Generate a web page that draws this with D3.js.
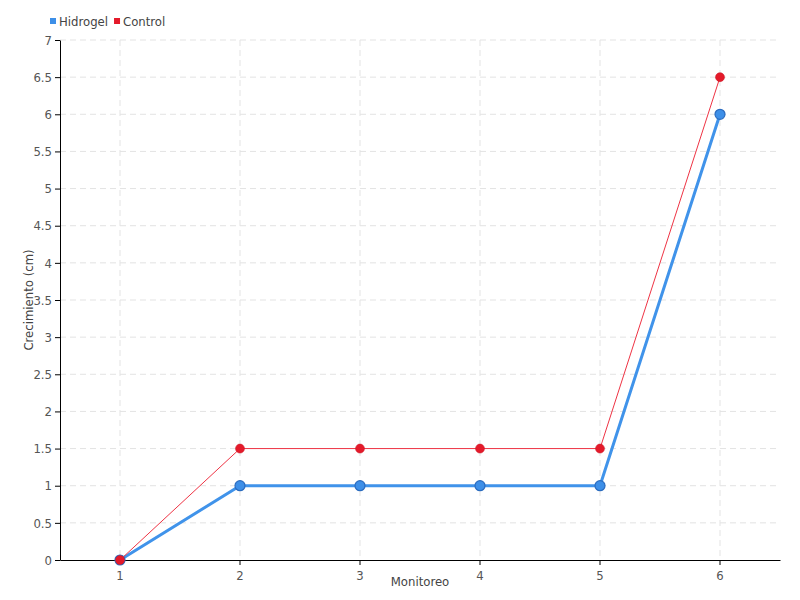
<!DOCTYPE html>
<html><head><meta charset="utf-8">
<script src="https://cdn.jsdelivr.net/npm/d3@7"></script>
<style>body{margin:0;background:#fff}svg{display:block}text{font-family:"DejaVu Sans Condensed","DejaVu Sans",sans-serif}</style>
</head><body><svg id="c" width="800" height="600"></svg>
<script>
const categories = ["1","2","3","4","5","6"];
const hidrogel = [0,1,1,1,1,6];
const control = [0,1.5,1.5,1.5,1.5,6.5];
const yTicks = [0,0.5,1,1.5,2,2.5,3,3.5,4,4.5,5,5.5,6,6.5,7];
const seriesNames = ["Hidrogel","Control"];

const svg = d3.select("#c");
const m = {l:60, r:20, t:40, b:40};
const W = 800, H = 600;
const x = d3.scaleBand().domain(categories).range([m.l, W-m.r]);
const y = d3.scaleLinear().domain([0,7]).range([H-m.b, m.t]);
const cx = d => x(d) + x.bandwidth()/2;
const grid = svg.append("g");
grid.selectAll("line.h").data(yTicks.slice(1)).join("line")
  .attr("x1", m.l).attr("x2", W-m.r).attr("y1", d=>y(d)).attr("y2", d=>y(d))
  .attr("stroke","#e3e3e3").attr("stroke-dasharray","6,4");
grid.selectAll("line.v").data(categories).join("line")
  .attr("x1", cx).attr("x2", cx).attr("y1", m.t).attr("y2", H-m.b)
  .attr("stroke","#e3e3e3").attr("stroke-dasharray","6,4");

const xa = svg.append("g").attr("transform",`translate(0,${H-m.b})`)
  .call(d3.axisBottom(x).tickSize(5).tickSizeOuter(0));
const ya = svg.append("g").attr("transform",`translate(${m.l},0)`)
  .call(d3.axisLeft(y).tickValues(yTicks).tickSize(5).tickSizeOuter(0).tickFormat(d3.format("")));
[xa,ya].forEach(a=>{a.select(".domain").attr("stroke","#000");a.selectAll(".tick line").attr("stroke","#000");
  a.selectAll("text").attr("fill","#555").style("font-size","13px").attr("font-family",null);});
xa.selectAll("text").attr("dy","0.9em");

const line = d3.line().x((d,i)=>cx(categories[i])).y(d=>y(d));
svg.append("path").datum(hidrogel).attr("d",line).attr("fill","none").attr("stroke","#4093ea").attr("stroke-width",3);
svg.selectAll("circle.h").data(hidrogel).join("circle").attr("cx",(d,i)=>cx(categories[i])).attr("cy",d=>y(d))
  .attr("r",5).attr("fill","#3d8fe8").attr("stroke","#2a6bbf").attr("stroke-width",1.2);
svg.append("path").datum(control).attr("d",line).attr("fill","none").attr("stroke","#ee3344").attr("stroke-width",1);
svg.selectAll("circle.c").data(control).join("circle").attr("cx",(d,i)=>cx(categories[i])).attr("cy",d=>y(d))
  .attr("r",4.5).attr("fill","#e41a2a").attr("stroke","#c81424").attr("stroke-width",0.5);

svg.append("text").attr("x",(m.l+W-m.r)/2).attr("y",586).attr("text-anchor","middle")
  .attr("fill","#444").style("font-size","13px").text("Monitoreo");
svg.append("text").attr("transform",`translate(33,${(m.t+H-m.b)/2}) rotate(-90)`).attr("text-anchor","middle")
  .attr("fill","#444").style("font-size","13px").text("Crecimiento (cm)");

const colors = ["#3d8fe8","#e41a2a"];
const lg = svg.append("g");
let lx = 50;
seriesNames.forEach((n,i)=>{
  lg.append("rect").attr("x",lx).attr("y",18).attr("width",6).attr("height",6).attr("fill",colors[i]);
  const t = lg.append("text").attr("x",lx+9).attr("y",26).attr("fill","#444").style("font-size","13px").text(n);
  lx += 9 + t.node().getComputedTextLength() + 6;
});
</script></body></html>
